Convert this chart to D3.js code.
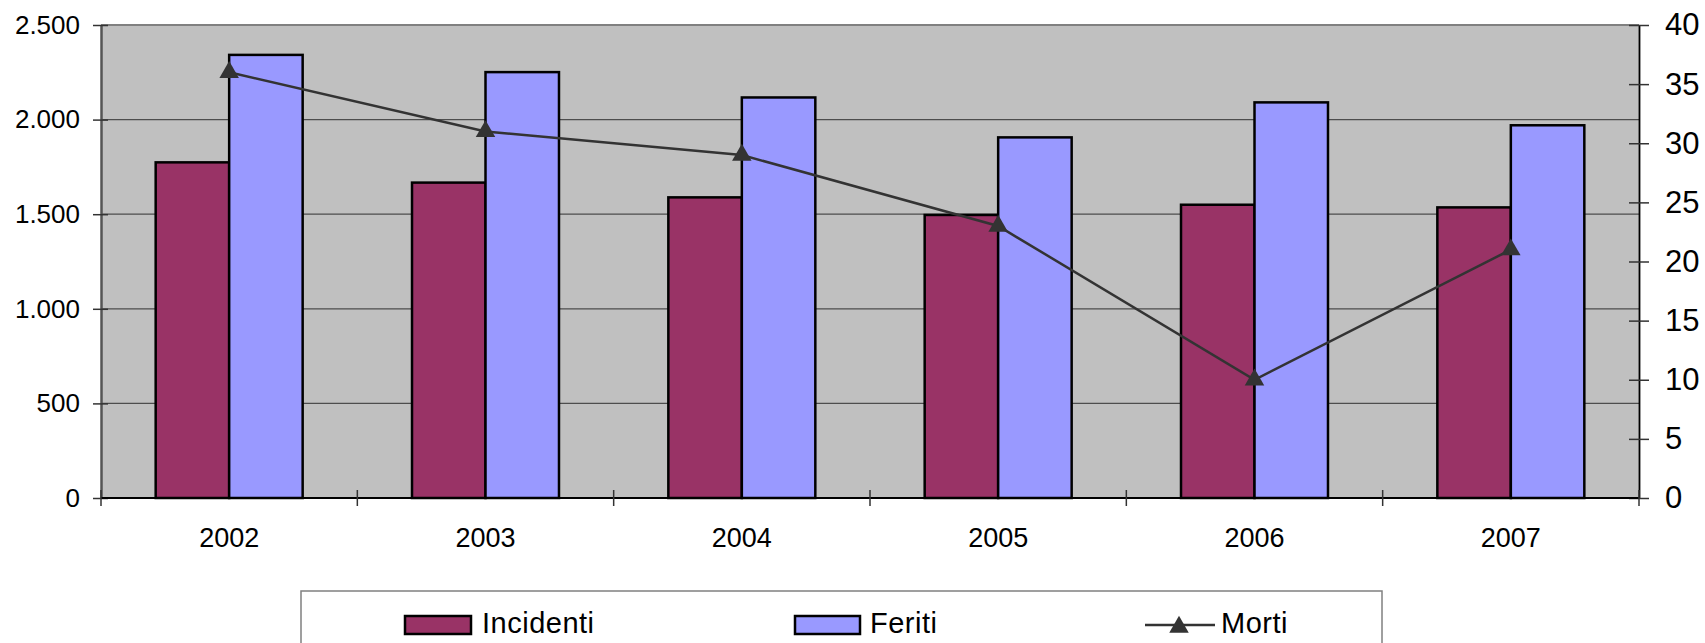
<!DOCTYPE html>
<html>
<head>
<meta charset="utf-8">
<script src="https://cdn.jsdelivr.net/npm/d3@7"></script>
<style>
  html, body { margin: 0; padding: 0; background: #fff; }
  svg { display: block; font-family: "Liberation Sans", Arial, sans-serif; }
</style>
</head>
<body>
<svg id="chart" width="1705" height="643"></svg>
<script>
// data
const years = ["2002", "2003", "2004", "2005", "2006", "2007"];
const incidenti = [1774, 1667, 1589, 1496, 1550, 1536];
const feriti = [2342, 2251, 2117, 1906, 2091, 1970];
const morti = [36, 31, 29, 23, 10, 21];
const leftTicks = [0, 500, 1000, 1500, 2000, 2500];
const rightTicks = [0, 5, 10, 15, 20, 25, 30, 35, 40];
const seriesNames = ["Incidenti", "Feriti", "Morti"];

const colors = { Incidenti: "#993366", Feriti: "#9999ff", Morti: "#333333" };

const svg = d3.select("#chart");
const plot = { left: 101, right: 1639, top: 25, bottom: 498 };

const x = d3.scaleBand().domain(years).range([plot.left, plot.right]).padding(0);
const xInner = d3.scaleBand().domain(["Incidenti", "Feriti"])
    .range([0, x.bandwidth()]).paddingInner(0).paddingOuter(0.744);
const yLeft = d3.scaleLinear().domain([0, 2500]).range([plot.bottom, plot.top]);
const yRight = d3.scaleLinear().domain([0, 40]).range([plot.bottom, plot.top]);

// plot area
svg.append("rect")
    .attr("x", plot.left).attr("y", plot.top)
    .attr("width", plot.right - plot.left).attr("height", plot.bottom - plot.top)
    .attr("fill", "#c0c0c0");

// gridlines
svg.append("g").selectAll("line")
    .data(leftTicks.filter(d => d > 0))
    .join("line")
    .attr("x1", plot.left).attr("x2", plot.right)
    .attr("y1", d => yLeft(d)).attr("y2", d => yLeft(d))
    .attr("stroke", d => d === 2500 ? "#808080" : "#4d4d4d")
    .attr("stroke-width", d => d === 2500 ? 2 : 1.2);

// bars
const groups = svg.append("g").selectAll("g")
    .data(years.map((y, i) => ({ year: y, vals: [["Incidenti", incidenti[i]], ["Feriti", feriti[i]]] })))
    .join("g")
    .attr("transform", d => `translate(${x(d.year)},0)`);

groups.selectAll("rect")
    .data(d => d.vals)
    .join("rect")
    .attr("x", d => xInner(d[0]))
    .attr("y", d => yLeft(d[1]))
    .attr("width", xInner.bandwidth())
    .attr("height", d => yLeft(0) - yLeft(d[1]))
    .attr("fill", d => colors[d[0]])
    .attr("stroke", "#000")
    .attr("stroke-width", 2.5);

// left axis
svg.append("g")
    .attr("transform", `translate(${plot.left},0)`)
    .call(d3.axisLeft(yLeft).tickValues(leftTicks).tickSizeInner(8).tickSizeOuter(0).tickPadding(13)
        .tickFormat(d => d3.format(",")(d).replace(/,/g, ".")))
    .call(g => g.select(".domain").attr("stroke", "#555").attr("stroke-width", 2.5))
    .call(g => g.selectAll(".tick line").attr("x1", 7).attr("stroke", "#333").attr("stroke-width", 1.5))
    .call(g => g.selectAll("text").attr("font-size", 26).attr("fill", "#000")
        .attr("font-family", "'Liberation Sans', Arial, sans-serif"));

// right axis
svg.append("g")
    .attr("transform", `translate(${plot.right},0)`)
    .call(d3.axisRight(yRight).tickValues(rightTicks).tickSizeInner(10).tickSizeOuter(0).tickPadding(16))
    .call(g => g.select(".domain").attr("stroke", "#000").attr("stroke-width", 1.8))
    .call(g => g.selectAll(".tick line").attr("x1", -10).attr("stroke", "#333").attr("stroke-width", 1.5))
    .call(g => g.selectAll("text").attr("font-size", 31).attr("fill", "#000")
        .attr("font-family", "'Liberation Sans', Arial, sans-serif"));

// bottom axis: line, boundary ticks, year labels
const xAxis = svg.append("g");
xAxis.append("line")
    .attr("x1", plot.left).attr("x2", plot.right)
    .attr("y1", plot.bottom).attr("y2", plot.bottom)
    .attr("stroke", "#000").attr("stroke-width", 2);
xAxis.selectAll("line.tick")
    .data(years.map(y => x(y)).concat([x(years[years.length - 1]) + x.bandwidth()]))
    .join("line")
    .attr("class", "tick")
    .attr("x1", d => d).attr("x2", d => d)
    .attr("y1", plot.bottom - 8).attr("y2", plot.bottom + 8)
    .attr("stroke", "#333").attr("stroke-width", 1.5);
xAxis.selectAll("text")
    .data(years)
    .join("text")
    .attr("x", d => x(d) + x.bandwidth() / 2)
    .attr("y", plot.bottom + 49)
    .attr("text-anchor", "middle")
    .attr("font-size", 27)
    .text(d => d);

// Morti line
const cx = (d, i) => x(years[i]) + x.bandwidth() / 2;
svg.append("path")
    .datum(morti)
    .attr("fill", "none")
    .attr("stroke", colors.Morti)
    .attr("stroke-width", 2.5)
    .attr("d", d3.line().x(cx).y(d => yRight(d)));

svg.append("g").selectAll("path")
    .data(morti)
    .join("path")
    .attr("transform", (d, i) => `translate(${cx(d, i)},${yRight(d)})`)
    .attr("d", d3.symbol(d3.symbolTriangle, 165))
    .attr("fill", colors.Morti);

// legend
const legend = svg.append("g");
legend.append("rect")
    .attr("x", 301).attr("y", 591)
    .attr("width", 1081).attr("height", 80)
    .attr("fill", "#fff").attr("stroke", "#808080").attr("stroke-width", 1.5);

const swatchX = [405, 795, 1145];
seriesNames.forEach((name, i) => {
    const g = legend.append("g").attr("transform", `translate(${swatchX[i]},0)`);
    if (name === "Morti") {
        g.append("line").attr("x1", 0).attr("x2", 70).attr("y1", 625).attr("y2", 625)
            .attr("stroke", colors.Morti).attr("stroke-width", 2.5);
        g.append("path").attr("transform", "translate(34,627)")
            .attr("d", d3.symbol(d3.symbolTriangle, 165)).attr("fill", colors.Morti);
    } else {
        g.append("rect").attr("x", 0).attr("y", 616).attr("width", i === 0 ? 66 : 65).attr("height", 18)
            .attr("fill", colors[name]).attr("stroke", "#000").attr("stroke-width", 2.5);
    }
    g.append("text")
        .attr("x", name === "Morti" ? 76 : (i === 0 ? 77 : 75))
        .attr("y", 633)
        .attr("font-size", 29)
        .attr("letter-spacing", 0.5)
        .text(name);
});
</script>
</body>
</html>
